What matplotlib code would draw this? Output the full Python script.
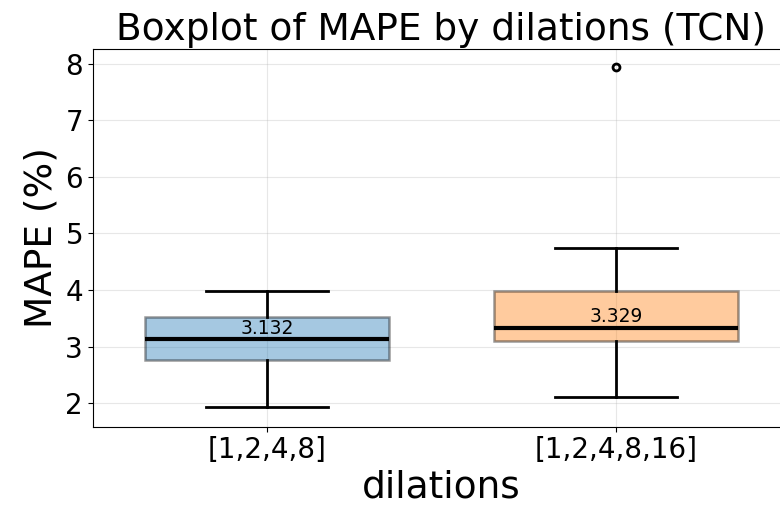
import matplotlib
matplotlib.use('Agg')
import matplotlib.pyplot as plt
from matplotlib.ticker import MultipleLocator

# box statistics
labels = ['[1,2,4,8]', '[1,2,4,8,16]']
medians = [3.132, 3.329]
q1 = [2.76, 3.11]
q3 = [3.52, 3.98]
whis_lo = [1.93, 2.12]
whis_hi = [3.98, 4.74]
outliers = [[], [7.93]]
colors = ['tab:blue', 'tab:orange']

stats = []
for i in range(len(labels)):
    stats.append({'label': labels[i], 'med': medians[i], 'q1': q1[i], 'q3': q3[i],
                  'whislo': whis_lo[i], 'whishi': whis_hi[i], 'fliers': outliers[i]})

fig = plt.figure(figsize=(7.8, 5.08), dpi=100)
ax = fig.add_axes([0.119, 0.16, 0.894, 0.744])

bp = ax.bxp(stats, widths=0.7, patch_artist=True,
            medianprops=dict(color='black', linewidth=3),
            whiskerprops=dict(color='black', linewidth=2),
            capprops=dict(color='black', linewidth=2),
            flierprops=dict(marker='o', markerfacecolor='none', markeredgecolor='black',
                            markersize=5, markeredgewidth=2))
for patch, c in zip(bp['boxes'], colors):
    patch.set_facecolor(c)
    patch.set_alpha(0.4)
    patch.set_edgecolor('black')
    patch.set_linewidth(1.8)

for i, m in enumerate(medians):
    ax.text(i + 1, m + 0.03, f'{m:.3f}', ha='center', va='bottom', fontsize=13.5)

ax.set_ylim(1.59, 8.26)
ax.set_xlim(0.5, 2.5)
ax.yaxis.set_major_locator(MultipleLocator(1))
ax.grid(True, alpha=0.3)
ax.set_title('Boxplot of MAPE by dilations (TCN)', fontsize=27)
ax.set_xlabel('dilations', fontsize=27)
ax.set_ylabel('MAPE (%)', fontsize=27)
ax.tick_params(labelsize=20)

fig.savefig('out.png', dpi=100)
